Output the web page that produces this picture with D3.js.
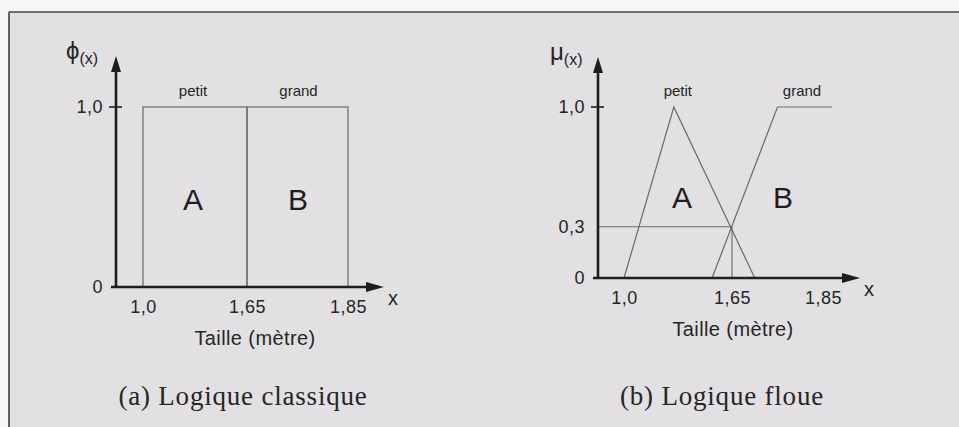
<!DOCTYPE html>
<html>
<head>
<meta charset="utf-8">
<script src="https://cdn.jsdelivr.net/npm/d3@7"></script>
<style>
  html, body { margin: 0; padding: 0; background: #f7f7f7; }
  svg { display: block; }
</style>
</head>
<body>
<svg id="chart" width="959" height="427"></svg>
<script>
// Heights on the x axis (schematic, not to scale)
const xTicks = [1.0, 1.65, 1.85];
const xTickLabels = ["1,0", "1,65", "1,85"];

// Classical (crisp) sets: interval bounds
const crispPetit = [1.0, 1.65];
const crispGrand = [1.65, 1.85];

// Fuzzy membership functions: [height, membership]
const fuzzyPetit = [[1.0, 0], [1.3, 1], [1.70, 0]];
const fuzzyGrand = [[1.53, 0], [1.75, 1], [1.87, 1]];

// Crossing point of the two fuzzy sets
const crossing = [1.65, 0.3];

// y tick values and labels for each panel
const yTicksA = [0, 1];
const yLabelsA = ["0", "1,0"];
const yTicksB = [0, 0.3, 1];
const yLabelsB = ["0", "0,3", "1,0"];

const svg = d3.select("#chart");
const SANS = "'Liberation Sans', Arial, sans-serif";
const SERIF = "'Liberation Serif', 'Times New Roman', serif";
const AXIS = "#1e1e1e";
const THIN = "#6a6a6a";
const TEXT = "#262626";

// Panel frame
svg.append("rect").attr("x", 9).attr("y", 12).attr("width", 960).attr("height", 430)
  .attr("fill", "#e2e0e2");
svg.append("line").attr("x1", 9).attr("x2", 959).attr("y1", 12).attr("y2", 12)
  .attr("stroke", "#707070").attr("stroke-width", 2);
svg.append("line").attr("x1", 9).attr("x2", 9).attr("y1", 12).attr("y2", 427)
  .attr("stroke", "#606060").attr("stroke-width", 2);

function drawAxes(g, x, y, opts) {
  const y0 = y(0);
  const yAxisX = opts.axisX;
  // y axis line + arrow
  g.append("line").attr("x1", yAxisX).attr("x2", yAxisX)
    .attr("y1", y0 + 1).attr("y2", opts.yTop + 10)
    .attr("stroke", AXIS).attr("stroke-width", 2.6);
  g.append("path")
    .attr("d", `M${yAxisX},${opts.yTop} L${yAxisX - 5},${opts.yTop + 16} L${yAxisX + 5},${opts.yTop + 16} Z`)
    .attr("fill", AXIS);
  // x axis line + arrow
  g.append("line").attr("x1", yAxisX - 5).attr("x2", opts.xRight - 10)
    .attr("y1", y0).attr("y2", y0)
    .attr("stroke", AXIS).attr("stroke-width", 2.6);
  g.append("path")
    .attr("d", `M${opts.xRight},${y0} L${opts.xRight - 18},${y0 - 5} L${opts.xRight - 18},${y0 + 5} Z`)
    .attr("fill", AXIS);

  // x tick labels through a bottom axis
  const xa = g.append("g").attr("transform", `translate(0,${y0 + 13})`)
    .call(d3.axisBottom(x).tickValues(xTicks).tickSize(0).tickPadding(0)
      .tickFormat((d, i) => xTickLabels[i]));
  xa.select(".domain").remove();
  xa.selectAll("text").attr("font-family", SANS).attr("font-size", 18)
    .attr("letter-spacing", 0.5).attr("fill", TEXT).attr("dy", "0.71em");

  // y tick labels through a left axis
  const ya = g.append("g").attr("transform", `translate(${yAxisX - 13},0)`)
    .call(d3.axisLeft(y).tickValues(opts.yTicks).tickSize(0).tickPadding(0)
      .tickFormat((d, i) => opts.yLabels[i]));
  ya.select(".domain").remove();
  ya.selectAll("text").attr("font-family", SANS).attr("font-size", 18)
    .attr("letter-spacing", 0.5).attr("fill", TEXT);

  // small tick mark crossing the axis at 1,0
  g.append("line").attr("x1", yAxisX - 7).attr("x2", yAxisX + 6)
    .attr("y1", y(1)).attr("y2", y(1)).attr("stroke", AXIS).attr("stroke-width", 1.6);

  // "x" at arrow end
  g.append("text").attr("x", opts.xRight + 9).attr("y", y0 + 18)
    .attr("font-family", SANS).attr("font-size", 20).attr("fill", TEXT)
    .attr("text-anchor", "middle").text("x");

  // axis title
  g.append("text").attr("x", opts.titleX).attr("y", y0 + 58)
    .attr("font-family", SANS).attr("font-size", 20).attr("letter-spacing", 0.4)
    .attr("fill", TEXT).attr("text-anchor", "middle").text("Taille (mètre)");

  // caption
  g.append("text").attr("x", opts.capX).attr("y", 405)
    .attr("font-family", SERIF).attr("font-size", 27).attr("letter-spacing", 0.8)
    .attr("fill", TEXT).attr("text-anchor", "middle").text(opts.caption);

  // y symbol
  const sym = g.append("text").attr("x", opts.symX).attr("y", opts.yTop + 3)
    .attr("font-family", SANS).attr("fill", TEXT);
  sym.append("tspan").attr("font-size", 24).text(opts.symbol);
  sym.append("tspan").attr("font-size", 16).attr("dy", 5).text("(x)");
}

function setLabels(g, xPetit, xGrand, xa, xb, ya) {
  g.append("text").attr("x", xPetit).attr("y", 96).attr("text-anchor", "middle")
    .attr("font-family", SANS).attr("font-size", 15).attr("fill", TEXT).text("petit");
  g.append("text").attr("x", xGrand).attr("y", 96).attr("text-anchor", "middle")
    .attr("font-family", SANS).attr("font-size", 15).attr("fill", TEXT).text("grand");
  g.append("text").attr("x", xa).attr("y", ya).attr("text-anchor", "middle")
    .attr("font-family", SANS).attr("font-size", 30).attr("fill", "#1e1e1e").text("A");
  g.append("text").attr("x", xb).attr("y", ya).attr("text-anchor", "middle")
    .attr("font-family", SANS).attr("font-size", 30).attr("fill", "#1e1e1e").text("B");
}

// ---- (a) Logique classique ----
{
  const x = d3.scaleLinear().domain(xTicks).range([143, 247, 348]);
  const y = d3.scaleLinear().domain([0, 1]).range([287, 107]);
  const g = svg.append("g");

  // crisp sets as rectangles
  [crispPetit, crispGrand].forEach(s => {
    g.append("rect").attr("x", x(s[0])).attr("y", y(1))
      .attr("width", x(s[1]) - x(s[0])).attr("height", y(0) - y(1))
      .attr("fill", "none").attr("stroke", THIN).attr("stroke-width", 1.2);
  });

  drawAxes(g, x, y, {
    axisX: 116, yTop: 56, xRight: 384, yTicks: yTicksA, yLabels: yLabelsA,
    titleX: 255, capX: 243, caption: "(a) Logique classique", symbol: "ϕ", symX: 66
  });
  setLabels(g, x((crispPetit[0] + crispPetit[1]) / 2) - 2, x((crispGrand[0] + crispGrand[1]) / 2) + 1,
    193, 298, 210);
}

// ---- (b) Logique floue ----
{
  const x = d3.scaleLinear().domain(xTicks).range([624, 732, 823]);
  const y = d3.scaleLinear().domain([0, 1]).range([278, 107]);
  const g = svg.append("g");
  const line = d3.line().x(d => x(d[0])).y(d => y(d[1]));

  // guide lines through the crossing point
  g.append("line").attr("x1", 598).attr("x2", x(crossing[0]))
    .attr("y1", y(crossing[1])).attr("y2", y(crossing[1]))
    .attr("stroke", THIN).attr("stroke-width", 1.1);
  g.append("line").attr("x1", x(crossing[0])).attr("x2", x(crossing[0]))
    .attr("y1", y(crossing[1])).attr("y2", y(0))
    .attr("stroke", THIN).attr("stroke-width", 1.1);

  [fuzzyPetit, fuzzyGrand].forEach(s => {
    g.append("path").attr("d", line(s)).attr("fill", "none")
      .attr("stroke", THIN).attr("stroke-width", 1.2);
  });

  drawAxes(g, x, y, {
    axisX: 598, yTop: 57, xRight: 860, yTicks: yTicksB, yLabels: yLabelsB,
    titleX: 733, capX: 722, caption: "(b) Logique floue", symbol: "μ", symX: 550
  });
  setLabels(g, x(fuzzyPetit[1][0]) + 4, 802, 682, 783, 208);
}
</script>
</body>
</html>
